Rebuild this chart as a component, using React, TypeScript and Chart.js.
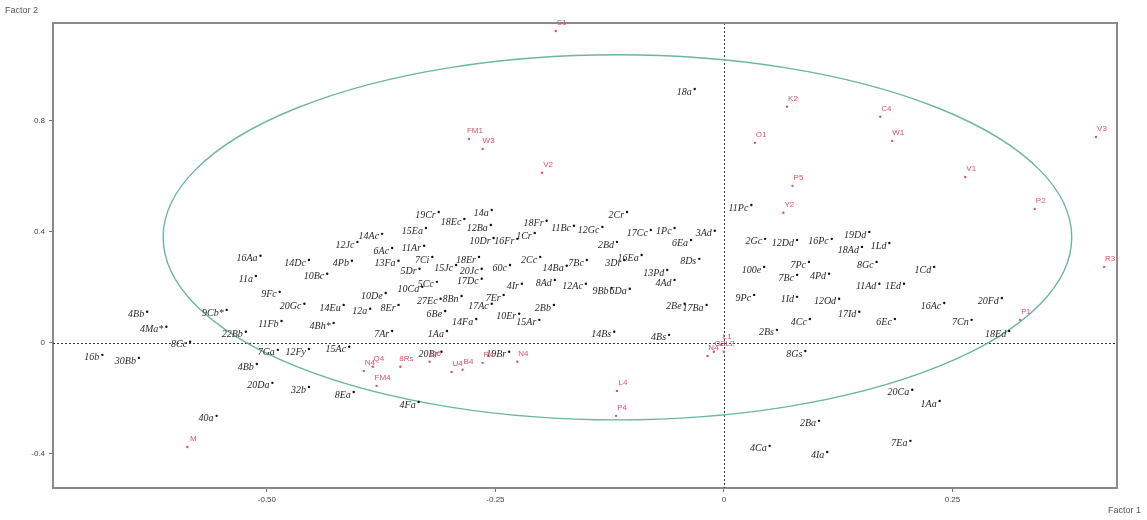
import React, { useEffect, useRef } from "react";
import { Chart, registerables } from "chart.js";

Chart.register(...registerables);

// Black (sample) points
const blackLabels = [
  "18a", "19Cr", "18Ec", "14a", "15Ea", "12Ba", "14Ac", "12Jc", "6Ac", "11Ar",
  "10Dr", "16Fr", "1Cr", "18Fr", "11Bc", "12Gc", "2Cr", "17Cc", "1Pc", "3Ad",
  "2Cc", "2Bd", "6Ea", "16Ea", "8Ds", "3Dr", "14Ba", "7Bc", "13Pd", "8Ad",
  "12Ac", "9Bb", "6Da", "4Ad", "2Bb", "2Be", "17Ba", "15Ar", "14Bs", "4Bs",
  "11Pc", "16Aa", "11a", "9Fc", "20Gc", "11Fb", "9Cb*", "4Bb", "4Ma*", "22Bb",
  "8Cc", "16b", "30Bb", "7Ga", "12Fy", "4Bb", "20Da", "32b", "40a", "14Dc",
  "4Pb", "13Fa", "7Ci", "18Er", "60c", "15Jc", "20Jc", "10Bc", "5Dr", "5Cc",
  "17Dc", "4Ir", "10De", "10Ca", "27Ec", "8Bn", "7Er", "14Eu", "12a", "8Er",
  "6Be", "17Ac", "14Fa", "10Er", "4Bh*", "7Ar", "1Aa", "15Ac", "20Br", "19Br",
  "8Ea", "4Fa", "2Gc", "12Dd", "16Pc", "19Dd", "18Ad", "1Ld", "100e", "7Pc",
  "7Bc", "4Pd", "8Gc", "1Cd", "11Ad", "1Ed", "9Pc", "1Id", "12Od", "17Id",
  "6Ec", "16Ac", "7Cn", "4Cc", "2Bs", "20Fd", "18Ed", "8Gs", "20Ca", "1Aa",
  "2Ba", "4Ca", "4Ia", "7Ea"
];
const blackFactor1 = [
  -0.032, -0.312, -0.284, -0.254, -0.326, -0.255, -0.374, -0.401, -0.363, -0.328,
  -0.252, -0.226, -0.207, -0.194, -0.164, -0.133, -0.106, -0.080, -0.054, -0.010,
  -0.201, -0.117, -0.036, -0.090, -0.027, -0.109, -0.172, -0.150, -0.062, -0.185,
  -0.151, -0.123, -0.103, -0.054, -0.186, -0.043, -0.019, -0.202, -0.120, -0.060,
  0.030, -0.507, -0.512, -0.486, -0.459, -0.484, -0.544, -0.631, -0.610, -0.523,
  -0.584, -0.680, -0.640, -0.488, -0.454, -0.511, -0.494, -0.454, -0.555, -0.454,
  -0.407, -0.356, -0.319, -0.268, -0.234, -0.293, -0.265, -0.434, -0.333, -0.314,
  -0.265, -0.221, -0.370, -0.330, -0.310, -0.287, -0.241, -0.416, -0.387, -0.356,
  -0.305, -0.254, -0.271, -0.224, -0.427, -0.363, -0.303, -0.410, -0.309, -0.235,
  -0.405, -0.334, 0.045, 0.080, 0.118, 0.159, 0.151, 0.181, 0.044, 0.093,
  0.080, 0.115, 0.167, 0.230, 0.170, 0.197, 0.033, 0.080, 0.126, 0.148,
  0.187, 0.241, 0.271, 0.094, 0.058, 0.304, 0.312, 0.089, 0.206, 0.236,
  0.104, 0.050, 0.113, 0.204
];
const blackFactor2 = [
  0.915, 0.472, 0.447, 0.479, 0.414, 0.425, 0.393, 0.364, 0.342, 0.350,
  0.378, 0.375, 0.396, 0.440, 0.422, 0.418, 0.472, 0.407, 0.414, 0.404,
  0.310, 0.364, 0.371, 0.317, 0.303, 0.299, 0.278, 0.299, 0.263, 0.227,
  0.213, 0.198, 0.195, 0.227, 0.137, 0.141, 0.137, 0.083, 0.040, 0.029,
  0.497, 0.314, 0.241, 0.184, 0.141, 0.079, 0.119, 0.112, 0.058, 0.040,
  0.004, -0.043, -0.054, -0.025, -0.022, -0.076, -0.144, -0.159, -0.263, 0.299,
  0.296, 0.296, 0.310, 0.310, 0.281, 0.281, 0.267, 0.249, 0.267, 0.220,
  0.231, 0.213, 0.180, 0.202, 0.159, 0.169, 0.173, 0.137, 0.123, 0.137,
  0.115, 0.141, 0.086, 0.105, 0.072, 0.043, 0.043, -0.014, -0.032, -0.032,
  -0.177, -0.213, 0.375, 0.371, 0.375, 0.400, 0.346, 0.360, 0.274, 0.292,
  0.245, 0.249, 0.292, 0.274, 0.213, 0.213, 0.173, 0.166, 0.159, 0.112,
  0.086, 0.144, 0.083, 0.086, 0.047, 0.162, 0.043, -0.029, -0.169, -0.209,
  -0.281, -0.371, -0.393, -0.353
];

// Red (supplementary) points
const redLabels = [
  "S1", "FM1", "W3", "V2", "K2", "O1", "C4", "W1", "V3", "V1",
  "P5", "Y2", "P2", "R3", "P1", "L1", "L2", "O3", "N4", "Q4",
  "N4", "8Rs", "Q6", "U4", "B4", "R4", "N4", "FM4", "L4", "P4", "M"
];
const redFactor1 = [
  -0.184, -0.279, -0.264, -0.199, 0.069, 0.034, 0.171, 0.184, 0.407, 0.264,
  0.075, 0.065, 0.340, 0.416, 0.324, -0.003, 0.000, -0.011, -0.018, -0.384,
  -0.394, -0.354, -0.322, -0.298, -0.286, -0.264, -0.226, -0.380, -0.117, -0.118, -0.587
];
const redFactor2 = [
  1.124, 0.735, 0.699, 0.613, 0.851, 0.721, 0.815, 0.728, 0.742, 0.598,
  0.566, 0.469, 0.483, 0.274, 0.083, -0.007, -0.032, -0.032, -0.047, -0.086,
  -0.101, -0.086, -0.068, -0.105, -0.097, -0.072, -0.068, -0.155, -0.173, -0.263, -0.375
];

const xTickValues = [-0.5, -0.25, 0, 0.25];
const yTickValues = [-0.4, 0, 0.4, 0.8];

const ELLIPSE_CX = -0.1165;
const ELLIPSE_CY = 0.3805;
const ELLIPSE_RX = 0.497;
const ELLIPSE_RY = 0.658;

const RED = "#e2506a";

const overlayPlugin = {
  id: "overlay",
  beforeDatasetsDraw(chart: any) {
    const { ctx, chartArea, scales } = chart;
    const x = scales.x, y = scales.y;
    ctx.save();
    // dotted zero lines
    ctx.strokeStyle = "#333";
    ctx.lineWidth = 1;
    ctx.setLineDash([2, 2]);
    const x0 = Math.round(x.getPixelForValue(0)) + 0.5;
    const y0 = Math.round(y.getPixelForValue(0)) + 0.5;
    ctx.beginPath();
    ctx.moveTo(x0, chartArea.top);
    ctx.lineTo(x0, chartArea.bottom);
    ctx.moveTo(chartArea.left, y0);
    ctx.lineTo(chartArea.right, y0);
    ctx.stroke();
    ctx.setLineDash([]);
    // ellipse
    const cx = x.getPixelForValue(ELLIPSE_CX);
    const cy = y.getPixelForValue(ELLIPSE_CY);
    const rx = Math.abs(x.getPixelForValue(ELLIPSE_CX + ELLIPSE_RX) - cx);
    const ry = Math.abs(y.getPixelForValue(ELLIPSE_CY + ELLIPSE_RY) - cy);
    ctx.strokeStyle = "#6cb5a4";
    ctx.lineWidth = 1.4;
    ctx.beginPath();
    ctx.ellipse(cx, cy, rx, ry, 0, 0, Math.PI * 2);
    ctx.stroke();
    // top and right frame
    ctx.strokeStyle = "#8a8a8a";
    ctx.lineWidth = 2;
    ctx.beginPath();
    ctx.moveTo(chartArea.left, chartArea.top);
    ctx.lineTo(chartArea.right, chartArea.top);
    ctx.lineTo(chartArea.right, chartArea.bottom);
    ctx.stroke();
    ctx.restore();
  },
  afterDatasetsDraw(chart: any) {
    const { ctx } = chart;
    ctx.save();
    const m0 = chart.getDatasetMeta(0);
    ctx.fillStyle = "#2a2a2a";
    ctx.font = "italic 10px 'Liberation Serif'";
    ctx.textAlign = "right";
    ctx.textBaseline = "middle";
    m0.data.forEach((el: any, i: number) => {
      ctx.fillText(blackLabels[i], el.x - 3, el.y + 3);
    });
    const m1 = chart.getDatasetMeta(1);
    ctx.fillStyle = RED;
    ctx.font = "8px 'Liberation Sans'";
    ctx.textAlign = "center";
    m1.data.forEach((el: any, i: number) => {
      ctx.fillText(redLabels[i], el.x + 6, el.y - 8);
    });
    ctx.restore();
  },
  afterDraw(chart: any) {
    const { ctx } = chart;
    ctx.save();
    ctx.fillStyle = "#555";
    ctx.font = "9px 'Liberation Sans'";
    ctx.textBaseline = "middle";
    ctx.textAlign = "left";
    ctx.fillText("Factor 2", 5, 11);
    ctx.textAlign = "right";
    ctx.fillText("Factor 1", 1141, 511);
    ctx.restore();
  },
};

export default function App() {
  const ref = useRef<HTMLCanvasElement>(null);
  useEffect(() => {
    document.body.style.margin = "0";
    const chart = new Chart(ref.current!, {
      type: "scatter",
      data: {
        datasets: [
          {
            data: blackFactor1.map((v, i) => ({ x: v, y: blackFactor2[i] })),
            pointRadius: 1.2,
            pointBackgroundColor: "#111",
            pointBorderWidth: 0,
          },
          {
            data: redFactor1.map((v, i) => ({ x: v, y: redFactor2[i] })),
            pointRadius: 1.2,
            pointBackgroundColor: RED,
            pointBorderWidth: 0,
          },
        ],
      },
      options: {
        responsive: false,
        animation: false,
        events: [],
        layout: { padding: { left: 8, right: 30, top: 23, bottom: 12 } },
        plugins: { legend: { display: false }, tooltip: { enabled: false } },
        scales: {
          x: {
            type: "linear",
            min: -0.734,
            max: 0.43,
            afterBuildTicks: (s: any) => {
              s.ticks = xTickValues.map((v) => ({ value: v }));
            },
            afterFit: (s: any) => {
              s.height = 20;
            },
            ticks: {
              color: "#444",
              font: { family: "'Liberation Sans'", size: 8 },
              padding: 3,
              maxRotation: 0,
              callback: (v: any) => (v === 0 ? "0" : Number(v).toFixed(2)),
            },
            grid: { drawOnChartArea: false, tickLength: 4, color: "#777" },
            border: { color: "#8a8a8a", width: 2 },
          },
          y: {
            type: "linear",
            min: -0.523,
            max: 1.153,
            afterBuildTicks: (s: any) => {
              s.ticks = yTickValues.map((v) => ({ value: v }));
            },
            afterFit: (s: any) => {
              s.width = 45;
            },
            ticks: {
              color: "#444",
              font: { family: "'Liberation Sans'", size: 8 },
              padding: 4,
              callback: (v: any) => (v === 0 ? "0" : String(Number(v).toFixed(1))),
            },
            grid: { drawOnChartArea: false, tickLength: 4, color: "#777" },
            border: { color: "#8a8a8a", width: 2 },
          },
        },
      },
      plugins: [overlayPlugin],
    });
    return () => chart.destroy();
  }, []);
  return (
    <div style={{ width: 1147, height: 520, background: "#fff" }}>
      <canvas ref={ref} width={1147} height={520} />
    </div>
  );
}
